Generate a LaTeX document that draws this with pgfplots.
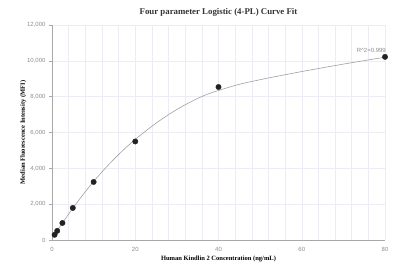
\documentclass[border=0pt]{standalone}
\usepackage{fontspec}
\setmainfont{Liberation Serif}
\newfontfamily\arial{Liberation Sans}
\usepackage{pgfplots}
\pgfplotsset{compat=1.18}
\definecolor{gridc}{HTML}{ECECF4}
\definecolor{axc}{HTML}{A8A8A8}
\definecolor{tickc}{HTML}{8C8C8C}
\definecolor{titc}{HTML}{333333}
\definecolor{ptc}{HTML}{222222}
\definecolor{curvec}{HTML}{A0A0A0}
\begin{document}
\begin{tikzpicture}
\path[use as bounding box] (0,0) rectangle (403pt,271pt);
\begin{axis}[
  at={(52pt,31pt)}, anchor=south west,
  scale only axis, width=333pt, height=215pt,
  xmin=0, xmax=80, ymin=0, ymax=12000,
  axis lines=left, axis line style={draw=axc, line width=0.6pt, -},
  xtick={0,20,40,60,80}, minor x tick num=4,
  ytick={0,2000,4000,6000,8000,10000,12000},
  xmajorgrids, xminorgrids, ymajorgrids,
  grid style={draw=gridc, line width=0.5pt},
  minor grid style={draw=gridc, line width=0.5pt},
  tick style={draw=axc, line width=0.5pt},
  x tick style={draw=none},
  minor tick length=0pt,
  tick align=outside, major tick length=3pt,
  ticklabel style={font=\arial\fontsize{6}{7}\selectfont, text=tickc},
  /pgf/number format/assume math mode=true,
  /pgf/number format/1000 sep={,},
  scaled y ticks=false,
  xticklabel style={yshift=-1pt},
  title={\bfseries Four parameter Logistic (4-PL) Curve Fit},
  title style={font=\fontsize{8.8}{10}\selectfont, text=titc, yshift=-1pt},
  xlabel={\bfseries Human Kindlin 2 Concentration (ng/mL)},
  ylabel={\bfseries Median Fluorescence Intensity (MFI)},
  label style={font=\fontsize{6.5}{8}\selectfont, text=black},
  xlabel style={yshift=3pt},
  ylabel style={yshift=-6pt},
  clip=false,
]
\addplot[draw=curvec, line width=0.6pt, smooth, no markers] coordinates {
 (0,80) (1.25,520) (2.5,948) (5,1773) (7.5,2548) (10,3265) (12.5,3928) (15,4540)
 (17.5,5103) (20,5615) (22.5,6080) (25,6522) (27.5,6920) (30,7287) (32.5,7610)
 (35,7902) (37.5,8150) (40,8347) (45,8690) (50,8947) (55,9180) (60,9402)
 (65,9612) (70,9817) (75,10012) (80,10202)
};
\addplot[only marks, mark=*, mark size=2.7pt, mark options={fill=ptc, draw=ptc}] coordinates {
 (0.625,290) (1.25,510) (2.5,950) (5,1790) (10,3240) (20,5500) (40,8540) (80,10220)
};
\node[anchor=south east, font=\arial\fontsize{6}{7}\selectfont, text=tickc, inner sep=1pt] at (axis cs:80,10220) [yshift=3pt, xshift=2pt] {R\textasciicircum 2=0.999};
\end{axis}
\end{tikzpicture}
\end{document}
